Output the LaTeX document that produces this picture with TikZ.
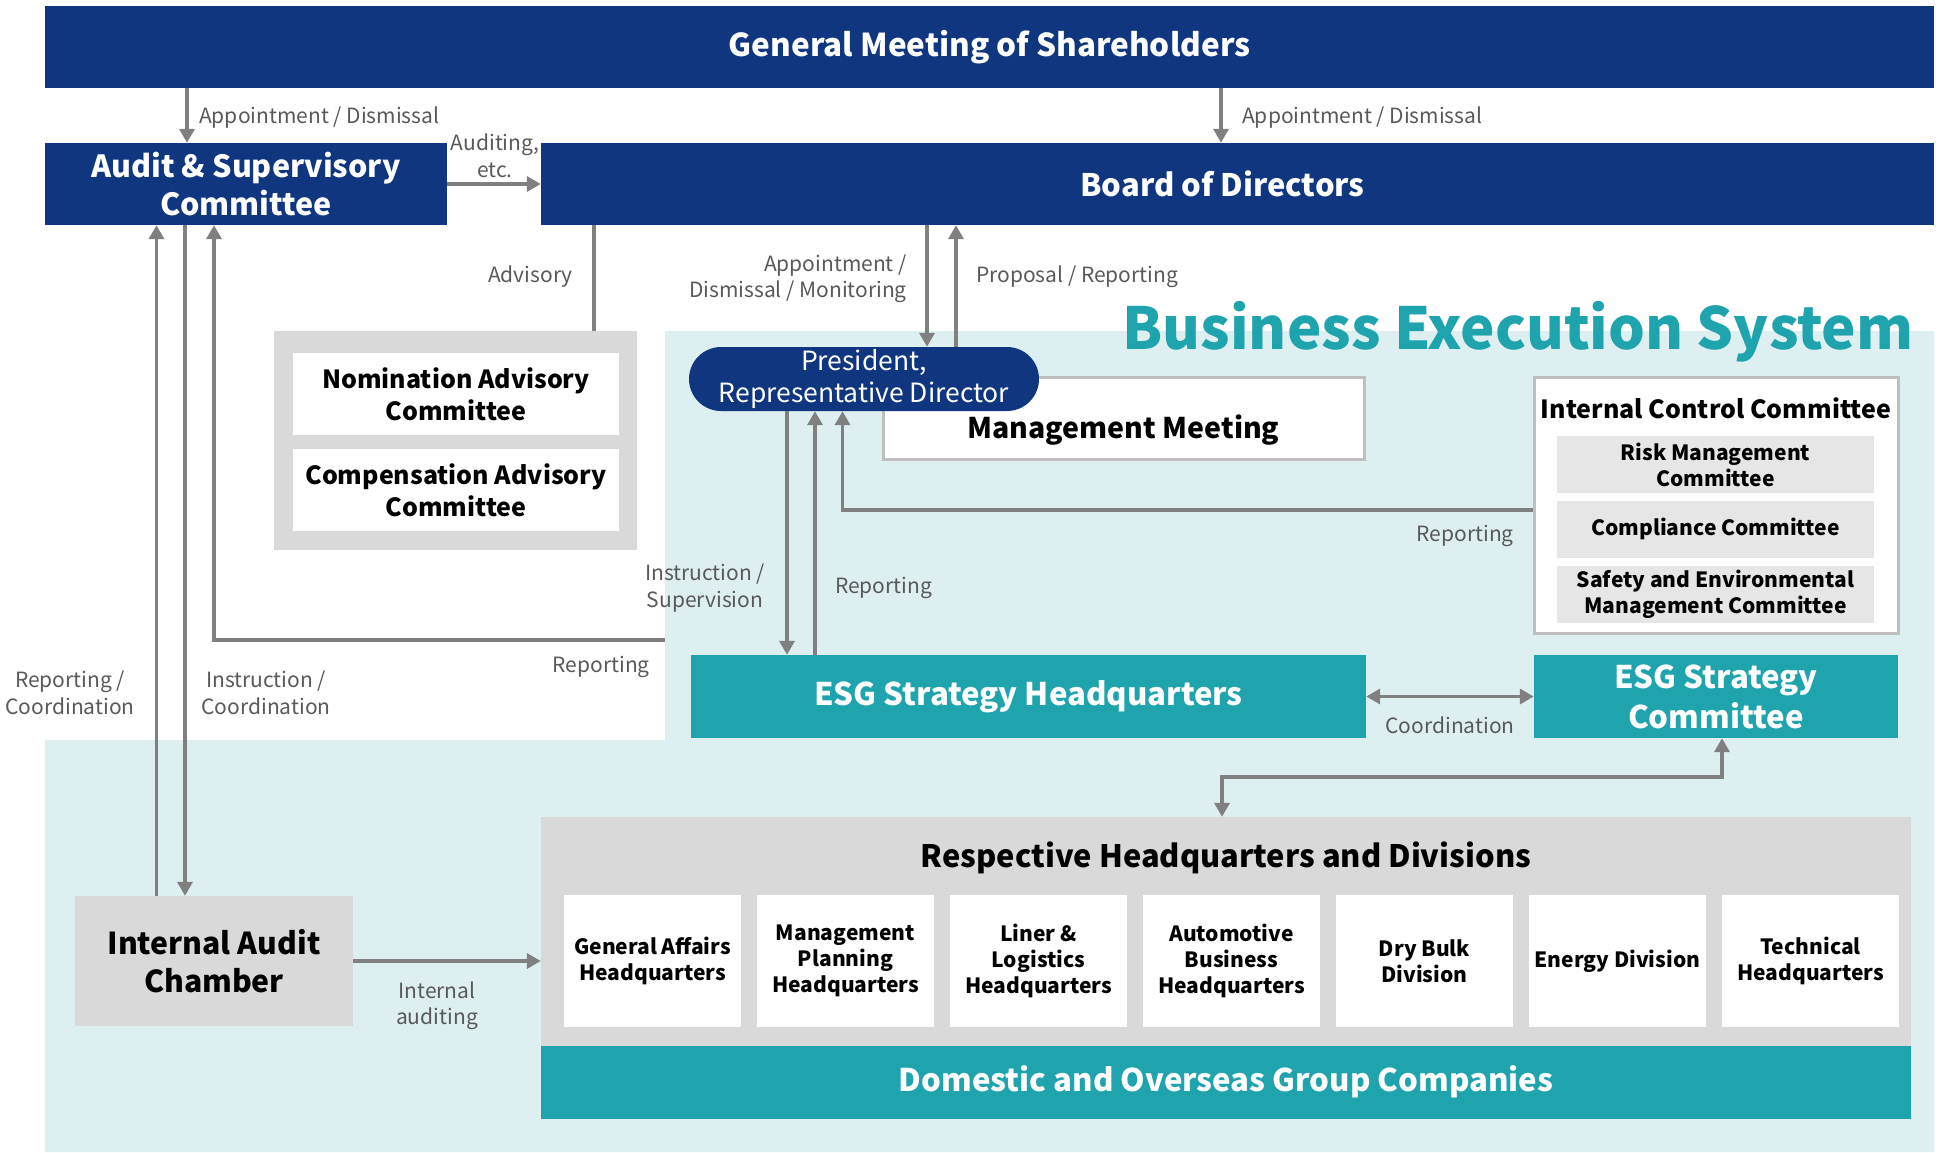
\documentclass[tikz,border=0pt]{standalone}
\usepackage{fontspec}
\setmainfont{Noto Sans CJK JP}
\usepackage{xcolor}
\usepackage{tikz}
\usetikzlibrary{positioning,calc,arrows.meta}
\definecolor{navy}{HTML}{10367F}
\definecolor{esgteal}{HTML}{1FA3AD}
\definecolor{bgblue}{HTML}{DDEFF1}
\definecolor{boxgray}{HTML}{D9D9D9}
\definecolor{subgray}{HTML}{E6E6E6}
\definecolor{edgegray}{HTML}{BFBFBF}
\definecolor{linegray}{HTML}{808080}
\definecolor{labgray}{HTML}{595959}

\begin{document}
\begin{tikzpicture}[x=1pt,y=-1pt,
  box/.style={inner sep=0pt, align=center},
  navybox/.style={box, fill=navy, text=white, font=\bfseries\fontsize{30.5}{38}\selectfont},
  tealbox/.style={box, fill=esgteal, text=white, font=\bfseries\fontsize{31.2}{40}\selectfont},
  whitebox/.style={box, fill=white, font=\bfseries\fontsize{25}{32}\selectfont},
  subbox/.style={box, fill=subgray, minimum width=317pt, minimum height=57pt, font=\bfseries\fontsize{21}{26}\selectfont},
  divbox/.style={box, fill=white, minimum width=177pt, minimum height=132pt, font=\bfseries\fontsize{21}{26}\selectfont},
  lab/.style={text=labgray, align=center, inner sep=0pt, font=\fontsize{21}{26.5}\selectfont},
  conn/.style={draw=linegray, line width=3.5pt},
  arr/.style={conn, -{Triangle[length=14pt,width=15pt]}},
  darr/.style={conn, {Triangle[length=14pt,width=15pt]}-{Triangle[length=14pt,width=15pt]}},
]
\useasboundingbox (0,0) rectangle (1939,1152);
\fill[white] (0,0) rectangle (1939,1152);
% business execution area
\fill[bgblue] (665,331) -- (1934,331) -- (1934,1152) -- (45,1152) -- (45,740) -- (665,740) -- cycle;
\node[anchor=base, text=esgteal, inner sep=0pt, font=\bfseries\fontsize{58}{58}\selectfont] (bes) at (1518,349) {Business Execution System};

% governance
\node[navybox, minimum width=1889pt, minimum height=82pt, font=\bfseries\fontsize{31.5}{38}\selectfont] (gm) at (989.5,47) {General Meeting of Shareholders};
\node[navybox, minimum width=402pt, minimum height=82pt] (audit) at (246,184) {Audit \& Supervisory\\Committee};
\node[navybox, minimum width=1393pt, minimum height=82pt,
  label={[xshift=-15pt, text=white, font=\bfseries\fontsize{31}{38}\selectfont]center:Board of Directors}] (board) at (1237.5,184) {};

\node[box, fill=boxgray, minimum width=363pt, minimum height=219pt] (adv) at (455.5,440.5) {};
\node[whitebox, minimum width=326pt, minimum height=82pt] (nom) at (456,394) {Nomination Advisory\\Committee};
\node[whitebox, minimum width=326pt, minimum height=82pt] (comp) at (456,490) {Compensation Advisory\\Committee};

% execution
\node[box, fill=white, draw=edgegray, line width=3pt, minimum width=481pt, minimum height=82pt,
  label={[yshift=-12pt, font=\bfseries\fontsize{28.5}{32}\selectfont]center:Management Meeting}] (mm) at (1123.5,418) {};
\node[box, fill=navy, text=white, rounded corners=32pt, minimum width=350pt, minimum height=64pt,
  font=\fontsize{26.5}{31.5}\selectfont] (pres) at (864,379) {President,\\Representative Director};

\node[box, fill=white, draw=edgegray, line width=3pt, minimum width=364pt, minimum height=256pt] (icc) at (1716,505) {};
\node[box, font=\bfseries\fontsize{25}{30}\selectfont] (icct) at (1716,408) {Internal Control Committee};
\node[subbox] (risk) at (1715.5,464.5) {Risk Management\\Committee};
\node[subbox] (cmpl) at (1715.5,529) {Compliance Committee};
\node[subbox] (safe) at (1715.5,594.5) {Safety and Environmental\\Management Committee};

\node[tealbox, minimum width=675pt, minimum height=83pt] (esghq) at (1028.5,696.5) {ESG Strategy Headquarters};
\node[tealbox, minimum width=364pt, minimum height=83pt] (esgc) at (1716,696.5) {ESG Strategy\\Committee};

\node[box, fill=boxgray, font=\bfseries\fontsize{30.2}{38.5}\selectfont, minimum width=278pt, minimum height=130pt] (ia) at (214,961) {Internal Audit\\Chamber};

\node[box, fill=boxgray, minimum width=1370pt, minimum height=301pt] (resp) at (1226,967.5) {};
\node[box, font=\bfseries\fontsize{30.9}{34}\selectfont] (respt) at (1226,858) {Respective Headquarters and Divisions};
\foreach \i/\txt in {0/{General Affairs\\Headquarters}, 1/{Management\\Planning\\Headquarters},
  2/{Liner \&\\Logistics\\Headquarters}, 3/{Automotive\\Business\\Headquarters},
  4/{Dry Bulk\\Division}, 5/{Energy Division}, 6/{Technical\\Headquarters}}
  \node[divbox] (div\i) at ({652.5+193*\i},961) {\txt};
\node[tealbox, minimum width=1370pt, minimum height=73pt] (dom) at (1226,1082) {Domestic and Overseas Group Companies};

% connectors
\draw[arr] (187,0 |- gm.south) -- (187,0 |- audit.north);
\draw[arr] (1221,0 |- gm.south) -- (1221,0 |- board.north);
\draw[arr] (audit.east) -- (board.west);
\draw[conn] (594,0 |- board.south) -- (594,0 |- adv.north);
\draw[arr] (927,0 |- board.south) -- (927,0 |- pres.north);
\draw[arr] (956,0 |- pres.north) -- (956,0 |- board.south);
\draw[arr] (787,0 |- pres.south) -- (787,0 |- esghq.north);
\draw[arr] (815,0 |- esghq.north) -- (815,0 |- pres.south);
\draw[arr] ([yshift=-5pt]icc.west) -| (842.5,0 |- pres.south);
\coordinate (besedge) at (665,640);
\draw[arr] (besedge) -| (214,0 |- audit.south);
\draw[arr] (156.5,0 |- ia.north) -- (156.5,0 |- audit.south);
\draw[arr] (185,0 |- audit.south) -- (185,0 |- ia.north);
\draw[arr] (ia.east) -- (ia.east -| resp.west);
\draw[darr] (esghq.east) -- (esgc.west);
\draw[darr] (1722,0 |- esgc.south) -- (1722,777) -| (1222,0 |- resp.north);

% labels
\node[lab, anchor=west] (lgm1) at (199,118) {Appointment / Dismissal};
\node[lab, anchor=west] (lgm2) at (1242,118) {Appointment / Dismissal};
\node[lab] (laud) at (495,156) {Auditing,\\etc.};
\node[lab, anchor=east] (ladv) at (573,277) {Advisory};
\node[lab, anchor=east, align=right] (lapp) at (907,279) {Appointment /\\Dismissal / Monitoring};
\node[lab, anchor=west] (lprop) at (976,277) {Proposal / Reporting};
\node[lab] (linst) at (705,588) {Instruction /\\Supervision};
\node[lab, anchor=west] (lrep1) at (835,588) {Reporting};
\node[lab, anchor=east] (lrep2) at (1514,536) {Reporting};
\node[lab, anchor=east] (lrep3) at (650,667) {Reporting};
\node[lab] (lrepc) at (70,693) {Reporting /\\Coordination};
\node[lab] (linsc) at (266,693) {Instruction /\\Coordination};
\node[lab] (lcoord) at (1450,725) {Coordination};
\node[lab] (lint) at (437,1006) {Internal\\auditing};
\end{tikzpicture}
\end{document}
